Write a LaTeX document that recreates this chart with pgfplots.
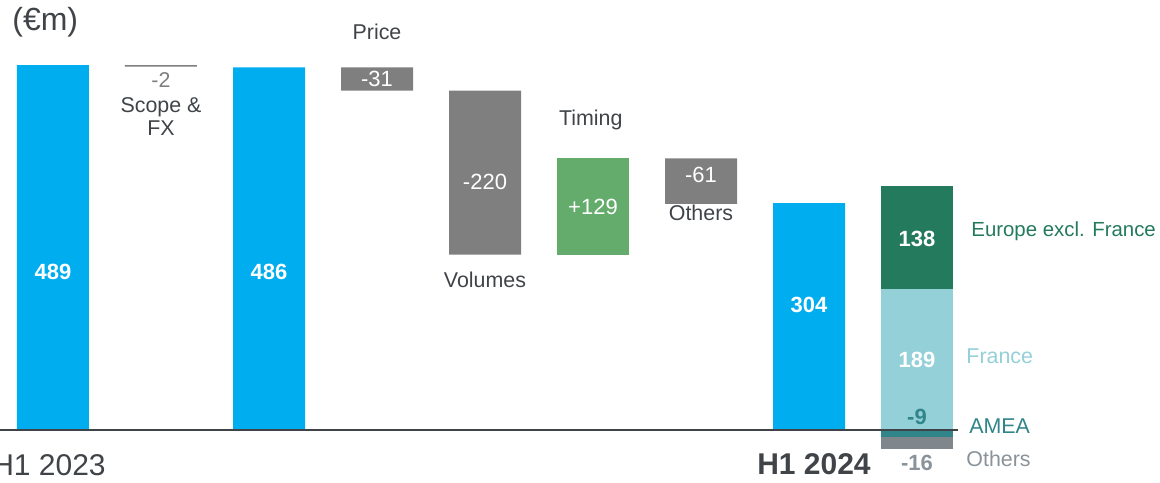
\documentclass[border=0pt]{standalone}
\usepackage{fontspec}
\setmainfont{Liberation Sans}
\usepackage{pgfplots}
\pgfplotsset{compat=1.18}
\definecolor{cblue}{HTML}{00ADEF}
\definecolor{cgrey}{HTML}{7F7F7F}
\definecolor{cgreen}{HTML}{64AC6B}
\definecolor{cdkgreen}{HTML}{237A5C}
\definecolor{cfrance}{HTML}{94D0D7}
\definecolor{camea}{HTML}{2F8589}
\definecolor{cothers}{HTML}{7F878D}
\definecolor{ctext}{HTML}{404448}
\definecolor{cothtext}{HTML}{8A9399}
\begin{document}
\begin{tikzpicture}[
  lbl/.style={font=\fontsize{10.7}{12}\selectfont, text=ctext, inner sep=0pt},
  wl/.style={font=\fontsize{11}{12}\selectfont, text=white, inner sep=0pt},
  wb/.style={font=\fontsize{11}{12}\selectfont\bfseries, text=white, inner sep=0pt},
]
\begin{axis}[
  scale only axis, width=580pt, height=241pt,
  xmin=-0.4907, xmax=10.25, ymin=-69.7, ymax=576.4,
  hide axis, clip=false,
  ybar stacked, bar width=36pt,
  after end axis/.code={
    \draw[color=ctext, line width=1.25pt] (axis cs:-0.4907,0) -- (axis cs:8.38,0);
    \node[anchor=west, inner sep=0pt, text=ctext, font=\fontsize{16}{18}\selectfont] at (axis cs:-0.38,547) {(€m)};
    \node[lbl, text=cgrey] at (axis cs:1,469) {-2};
    \node[lbl] at (axis cs:1,433) {Scope \&};
    \node[lbl] at (axis cs:1,405) {FX};
    \node[lbl] at (axis cs:3,533.5) {Price};
    \node[wl] at (axis cs:3,471) {-31};
    \node[wl] at (axis cs:4,332) {-220};
    \node[lbl] at (axis cs:4,201) {Volumes};
    \node[lbl] at (axis cs:4.98,415.5) {Timing};
    \node[wl] at (axis cs:5,299) {+129};
    \node[wl] at (axis cs:6,342) {-61};
    \node[lbl] at (axis cs:6,291) {Others};
    \node[wb] at (axis cs:0,212) {489};
    \node[wb] at (axis cs:2,212) {486};
    \node[wb] at (axis cs:7,167.6) {304};
    \node[wb] at (axis cs:8,256) {138};
    \node[wb] at (axis cs:8,94) {189};
    \node[wb, text=camea] at (axis cs:8,17.4) {-9};
    \node[wb, text=cothtext] at (axis cs:8,-44) {-16};
    \node[lbl, anchor=west, text=cdkgreen, font=\fontsize{10.2}{12}\selectfont] at (axis cs:8.5,267) {Europe excl. France};
    \node[lbl, anchor=west, text=cfrance] at (axis cs:8.454,99) {France};
    \node[lbl, anchor=west, text=camea] at (axis cs:8.48,5.4) {AMEA};
    \node[lbl, anchor=west, text=cothtext] at (axis cs:8.454,-38.9) {Others};
    \node[inner sep=0pt, text=ctext, font=\fontsize{15}{17}\selectfont] at (axis cs:-0.037,-47) {H1 2023};
    \node[inner sep=0pt, text=ctext, font=\fontsize{15}{17}\selectfont\bfseries] at (axis cs:7.046,-45.6) {H1 2024};
  },
]
% invisible base
\addplot[draw=none, fill=none] coordinates {(0,0) (1,487) (2,0) (3,455) (4,235) (5,235) (6,303) (7,0) (8,0)};
% AMEA
\addplot[draw=none, fill=camea] coordinates {(0,0) (1,0) (2,0) (3,0) (4,0) (5,0) (6,0) (7,0) (8,-9)};
% Others (H1 2024 split)
\addplot[draw=none, fill=cothers] coordinates {(0,0) (1,0) (2,0) (3,0) (4,0) (5,0) (6,0) (7,0) (8,-16)};
% totals
\addplot[draw=none, fill=cblue] coordinates {(0,489) (1,0) (2,486) (3,0) (4,0) (5,0) (6,0) (7,304) (8,0)};
% negative bridges
\addplot[draw=none, fill=cgrey] coordinates {(0,0) (1,2) (2,0) (3,31) (4,220) (5,0) (6,61) (7,0) (8,0)};
% positive bridge
\addplot[draw=none, fill=cgreen] coordinates {(0,0) (1,0) (2,0) (3,0) (4,0) (5,129) (6,0) (7,0) (8,0)};
% France
\addplot[draw=none, fill=cfrance] coordinates {(0,0) (1,0) (2,0) (3,0) (4,0) (5,0) (6,0) (7,0) (8,189)};
% Europe excl. France
\addplot[draw=none, fill=cdkgreen] coordinates {(0,0) (1,0) (2,0) (3,0) (4,0) (5,0) (6,0) (7,0) (8,138)};
\end{axis}
\pgfresetboundingbox
\useasboundingbox (current axis.south west) rectangle (current axis.north east);
\end{tikzpicture}
\end{document}
